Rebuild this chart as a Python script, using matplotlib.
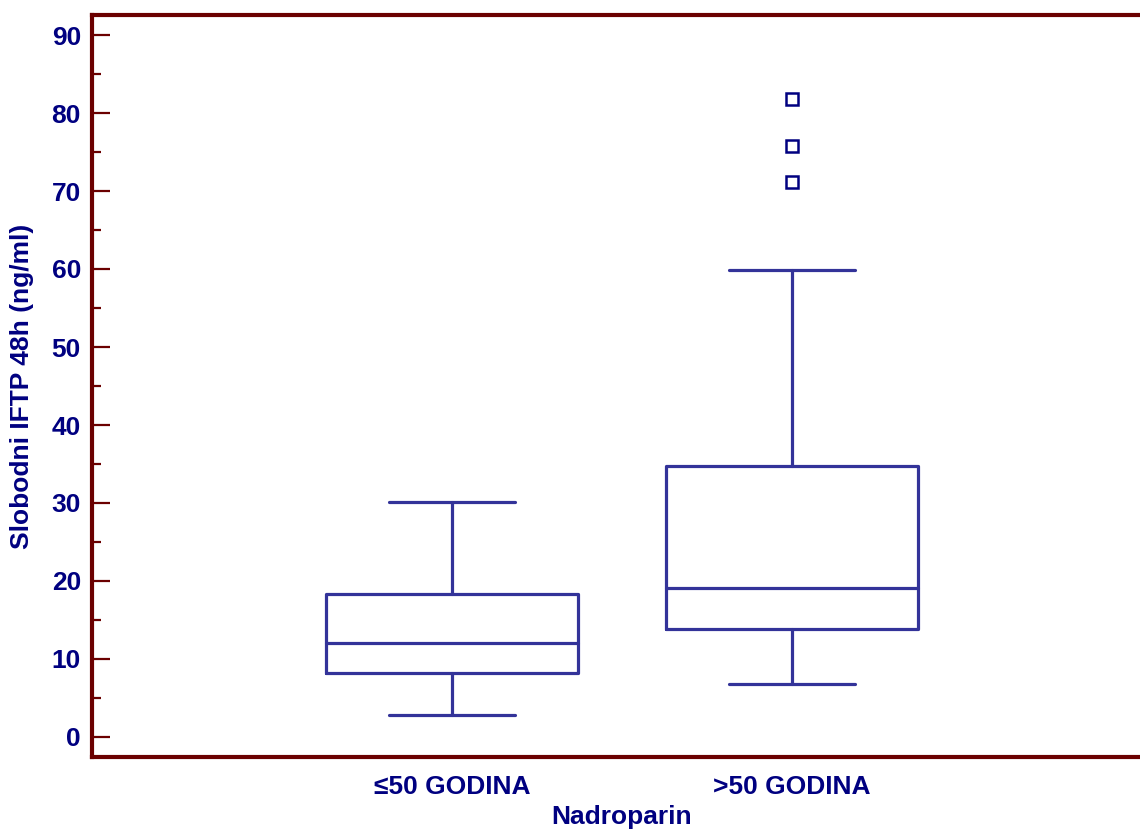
import numpy as np
import matplotlib.pyplot as plt
from matplotlib import font_manager as fm
from matplotlib.ticker import MultipleLocator

# Box plot summary values
groups = ["\u226450 GODINA", ">50 GODINA"]
q1 = [8.2, 13.85]
med = [12.05, 19.1]
q3 = [18.3, 34.7]
whis_lo = [2.8, 6.8]
whis_hi = [30.1, 59.9]
outliers = [[], [71.2, 75.8, 81.8]]

navy = "#000080"
boxcol = "#333399"
frame = "#6b0000"

# pick the regular-width bold Liberation Sans file (not the narrow one)
bold_file = None
for f in fm.fontManager.ttflist:
    if f.fname.endswith("LiberationSans-Bold.ttf"):
        bold_file = f.fname
if bold_file:
    fp = fm.FontProperties(fname=bold_file, size=19)
else:
    fp = fm.FontProperties(family='DejaVu Sans', weight='bold', size=17)

fig = plt.figure(figsize=(11.4, 8.32), dpi=100)
ax = fig.add_axes([92 / 1140, (832 - 757) / 832, 1058 / 1140, 742 / 832])

stats = []
for i in range(len(groups)):
    stats.append(dict(med=med[i], q1=q1[i], q3=q3[i], whislo=whis_lo[i],
                      whishi=whis_hi[i], fliers=outliers[i], label=groups[i]))

lp = dict(color=boxcol, linewidth=2.3, solid_capstyle='round')
ax.bxp(stats, positions=[1, 2], widths=0.741, capwidths=0.37,
       boxprops=lp, whiskerprops=lp, capprops=lp, medianprops=lp,
       flierprops=dict(marker='s', markersize=9, markerfacecolor='none',
                       markeredgecolor=navy, markeredgewidth=1.8, linestyle='none'))

ax.set_xlim(-0.0588, -0.0588 + 1058 / 340)
ax.set_ylim(-20 / 7.8, 90 + 20 / 7.8)
ax.set_yticks(np.arange(0, 91, 10))
ax.yaxis.set_minor_locator(MultipleLocator(5))

for s in ['left', 'bottom', 'top']:
    ax.spines[s].set_color(frame)
    ax.spines[s].set_linewidth(3)
ax.spines['right'].set_visible(False)

ax.tick_params(axis='y', which='major', direction='in', length=13, width=1.6,
               color=frame, labelcolor=navy, pad=8)
ax.tick_params(axis='y', which='minor', direction='in', length=6.5, width=1.6, color=frame)
ax.tick_params(axis='x', length=0, labelcolor=navy, pad=13)
for lab in ax.get_xticklabels() + ax.get_yticklabels():
    lab.set_fontproperties(fp)

ax.set_ylabel("Slobodni IFTP 48h (ng/ml)", color=navy, fontproperties=fp)
ax.yaxis.set_label_coords(-(92 - 34) / 1058, 0.5)
ax.set_xlabel("Nadroparin", color=navy, fontproperties=fp)
ax.xaxis.set_label_coords((622 - 92) / 1058, -(805 - 757) / 742)

fig.savefig("out.png", dpi=100)
